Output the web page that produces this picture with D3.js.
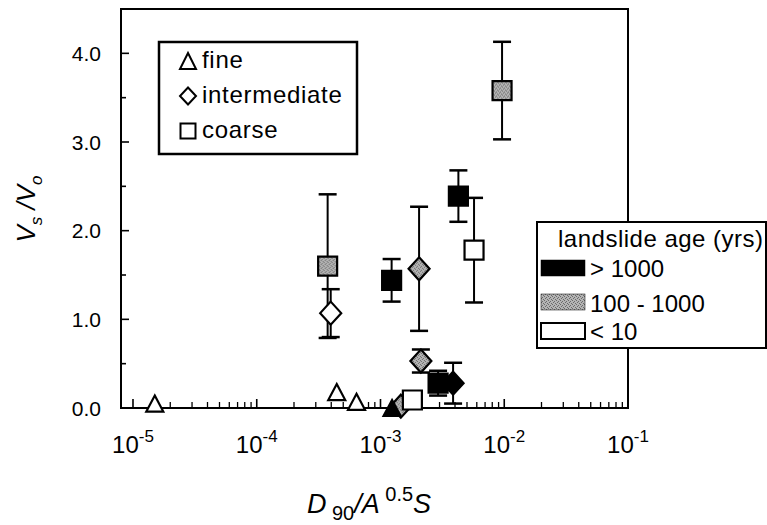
<!DOCTYPE html>
<html><head><meta charset="utf-8">
<script src="https://cdn.jsdelivr.net/npm/d3@7"></script>
<style>
html,body{margin:0;padding:0;background:#fff;}
svg{display:block;font-family:"Liberation Sans",Arial,Helvetica,sans-serif;}
</style></head>
<body>
<svg id="chart" width="767" height="525"></svg>
<script>
// ---- data ----
const grainClasses = ["fine", "intermediate", "coarse"];
const ageClasses = ["> 1000", "100 - 1000", "< 10"];
const xTickLabels = ["-5", "-4", "-3", "-2", "-1"];
const xTickValues = [1e-5, 1e-4, 1e-3, 1e-2, 1e-1];
const yTickValues = [0, 1, 2, 3, 4];
const yTickLabels = ["0.0", "1.0", "2.0", "3.0", "4.0"];
// points (drawing order)
const pointX     = [9.6e-3, 4.26e-3, 5.7e-3, 3.74e-4, 3.96e-4, 1.23e-3, 2.05e-3, 2.12e-3, 2.92e-3, 3.86e-3, 1.46e-3, 1.24e-3, 1.81e-3, 1.5e-5, 4.43e-4, 6.4e-4];
const pointY     = [3.58, 2.39, 1.78, 1.60, 1.07, 1.44, 1.57, 0.53, 0.28, 0.28, 0.02, 0.0, 0.09, 0.05, 0.18, 0.07];
const pointErr   = [0.55, 0.29, 0.59, 0.81, 0.27, 0.24, 0.70, 0.13, 0.14, 0.23, 0, 0, 0, 0, 0, 0];
const pointGrain = ["coarse","coarse","coarse","coarse","intermediate","coarse","intermediate","intermediate","coarse","intermediate","intermediate","fine","coarse","fine","fine","fine"];
const pointAge   = ["100 - 1000","> 1000","< 10","100 - 1000","< 10","> 1000","100 - 1000","100 - 1000","> 1000","> 1000","100 - 1000","> 1000","< 10","< 10","< 10","< 10"];

const svg = d3.select("#chart");
const L = 121, R = 628, T = 9, B = 408;

// stipple pattern for mid-age class
const defs = svg.append("defs");
const pat = defs.append("pattern").attr("id","stip").attr("width",4).attr("height",4).attr("patternUnits","userSpaceOnUse");
pat.append("rect").attr("width",4).attr("height",4).attr("fill","#b4b4b4");
[[0,0],[2,1],[1,2],[3,3]].forEach(p=>pat.append("rect").attr("x",p[0]).attr("y",p[1]).attr("width",1).attr("height",1).attr("fill","#6a6a6a"));

const fillFor = d3.scaleOrdinal().domain(ageClasses).range(["#000", "url(#stip)", "#fff"]);

const x = d3.scaleLog().domain([8e-6, 1e-1]).range([L, R]);
const y = d3.scaleLinear().domain([0, 4.5]).range([B, T]);

// frame
svg.append("rect").attr("x",L).attr("y",T).attr("width",R-L).attr("height",B-T)
  .attr("fill","none").attr("stroke","#000").attr("stroke-width",2);

// x ticks (inward)
const minorX = [];
for (let e = -5; e < -1; e++) for (let m = 2; m <= 9; m++) minorX.push(m * Math.pow(10, e));
svg.append("g").selectAll("line.mx").data(minorX).join("line")
  .attr("x1",d=>x(d)).attr("x2",d=>x(d)).attr("y1",B).attr("y2",B-6)
  .attr("stroke","#000").attr("stroke-width",1.3);
svg.append("g").selectAll("line.Mx").data(xTickValues).join("line")
  .attr("x1",d=>x(d)).attr("x2",d=>x(d)).attr("y1",B).attr("y2",B-9)
  .attr("stroke","#000").attr("stroke-width",1.6);
const xl = svg.append("g").selectAll("text").data(xTickValues).join("text")
  .attr("x",d=>x(d)).attr("y",453).attr("text-anchor","middle").attr("font-size",24).attr("fill","#000");
xl.append("tspan").text("10");
xl.append("tspan").attr("font-size",17).attr("dy",-11).text((d,i)=>xTickLabels[i]);

// y ticks (inward)
const minorY = [0.5, 1.5, 2.5, 3.5];
svg.append("g").selectAll("line").data(minorY).join("line")
  .attr("x1",L).attr("x2",L+5).attr("y1",d=>y(d)).attr("y2",d=>y(d))
  .attr("stroke","#000").attr("stroke-width",1.6);
svg.append("g").selectAll("line").data(yTickValues).join("line")
  .attr("x1",L).attr("x2",L+8).attr("y1",d=>y(d)).attr("y2",d=>y(d))
  .attr("stroke","#000").attr("stroke-width",1.6);
svg.append("g").selectAll("text").data(yTickValues).join("text")
  .attr("x",101).attr("y",d=>y(d)+7.5).attr("text-anchor","end").attr("font-size",21)
  .text((d,i)=>yTickLabels[i]);

// axis titles
const xt = svg.append("text").attr("x",369).attr("y",513).attr("text-anchor","middle").attr("font-size",27);
xt.append("tspan").attr("font-style","italic").text("D");
xt.append("tspan").attr("font-size",20).attr("dy",7).text(" 90");
xt.append("tspan").attr("font-style","italic").attr("dy",-7).text("/A");
xt.append("tspan").attr("font-size",20).attr("dy",-12).text(" 0.5");
xt.append("tspan").attr("font-style","italic").attr("dy",12).text("S");

const yt = svg.append("text").attr("transform","translate(35,209) rotate(-90)").attr("text-anchor","middle").attr("font-size",26).attr("font-style","italic");
yt.append("tspan").text("V");
yt.append("tspan").attr("font-size",17).attr("dy",7).text("s");
yt.append("tspan").attr("dy",-7).text(" /V");
yt.append("tspan").attr("font-size",17).attr("dy",7).text("o");

// symbol path generator
function symPath(shape, w, h) {
  const a = w/2, b = h/2;
  if (shape === "fine") return `M0,${-b}L${a},${b}L${-a},${b}Z`;
  if (shape === "intermediate") return `M0,${-b}L${a},0L0,${b}L${-a},0Z`;
  return `M${-a},${-b}L${a},${-b}L${a},${b}L${-a},${b}Z`;
}
const markSize = {fine:[17,16], intermediate:[21,23], coarse:[19,19]};

const pts = pointX.map((v,i)=>({x:v, y:pointY[i], e:pointErr[i], g:pointGrain[i], a:pointAge[i]}));

// error bars
const eb = svg.append("g").attr("stroke","#000").attr("stroke-width",2);
pts.filter(d=>d.e>0).forEach(d=>{
  const cx = x(d.x);
  eb.append("line").attr("x1",cx).attr("x2",cx).attr("y1",y(d.y+d.e)).attr("y2",y(d.y-d.e));
  eb.append("line").attr("x1",cx-9).attr("x2",cx+9).attr("y1",y(d.y+d.e)).attr("y2",y(d.y+d.e)).attr("stroke-width",2.5);
  eb.append("line").attr("x1",cx-9).attr("x2",cx+9).attr("y1",y(d.y-d.e)).attr("y2",y(d.y-d.e)).attr("stroke-width",2.5);
});

// markers
svg.append("g").selectAll("path").data(pts).join("path")
  .attr("transform",d=>`translate(${x(d.x)},${y(d.y)})`)
  .attr("d",d=>symPath(d.g, markSize[d.g][0], markSize[d.g][1]))
  .attr("fill",d=>fillFor(d.a)).attr("stroke","#000").attr("stroke-width",2.2).attr("stroke-linejoin","miter");

// legend: grain size
const lg = svg.append("g");
lg.append("rect").attr("x",159).attr("y",42).attr("width",198).attr("height",112)
  .attr("fill","#fff").attr("stroke","#000").attr("stroke-width",2.5);
const legBase = [68, 103, 138];
const legSize = {fine:[16,16], intermediate:[16,17], coarse:[15,15]};
grainClasses.forEach((g,i)=>{
  lg.append("path").attr("transform",`translate(188,${legBase[i]-7})`)
    .attr("d",symPath(g, legSize[g][0], legSize[g][1])).attr("fill","#fff").attr("stroke","#000").attr("stroke-width",2);
  lg.append("text").attr("x",202).attr("y",legBase[i]).attr("font-size",24).attr("letter-spacing",0.7).text(g);
});

// legend: landslide age
const ag = svg.append("g");
ag.append("rect").attr("x",537).attr("y",222).attr("width",229).attr("height",126)
  .attr("fill","#fff").attr("stroke","#000").attr("stroke-width",2);
ag.append("text").attr("x",558).attr("y",247).attr("font-size",24).attr("letter-spacing",0.5).text("landslide age (yrs)");
const ageBase = [277, 312, 340];
const swTop = [260, 294, 323];
ageClasses.forEach((a,i)=>{
  ag.append("rect").attr("x",541).attr("y",swTop[i]).attr("width",44).attr("height",16)
    .attr("fill",fillFor(a)).attr("stroke","#000").attr("stroke-width",a==="< 10"?2:0.5);
  ag.append("text").attr("x",590).attr("y",ageBase[i]).attr("font-size",24).text(a);
});
</script>
</body></html>
